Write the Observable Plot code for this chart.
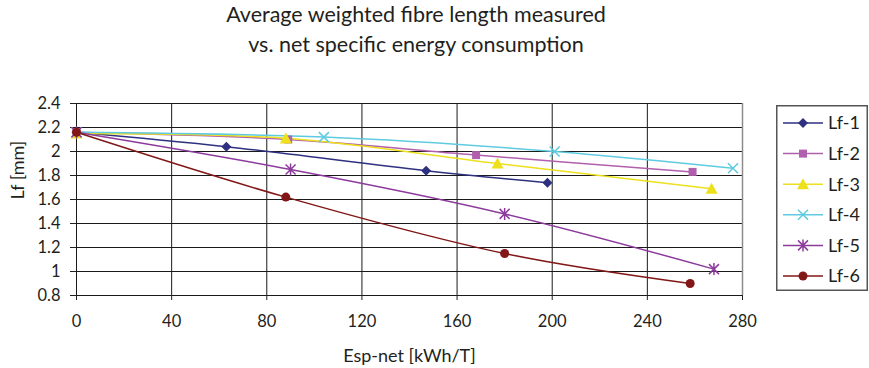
<!DOCTYPE html>
<html>
<head>
<meta charset="utf-8">
<script src="https://cdn.jsdelivr.net/npm/d3@7"></script>
<script src="https://cdn.jsdelivr.net/npm/@observablehq/plot@0.6"></script>
<style>
  html, body { margin: 0; padding: 0; background: #fff; }
  #wrap { position: relative; width: 869px; height: 368px; font-family: Lato, "Open Sans", sans-serif; color: #231f20; }
  #title { position: absolute; left: 0; top: -1px; width: 832px; text-align: center; font-size: 21.5px; line-height: 30px; }
  #chart { position: absolute; left: 0; top: 80px; }
  #legend { position: absolute; left: 776px; top: 105px; }
</style>
</head>
<body>
<div id="wrap">
  <div id="title">Average weighted fibre length measured<br>vs. net specific energy consumption</div>
  <div id="chart"></div>
  <div id="legend"></div>
</div>
<script>
// ---- data ----
const series = ["Lf-1", "Lf-2", "Lf-3", "Lf-4", "Lf-5", "Lf-6"];
const colors = ["#2e3080", "#b160ad", "#ece11c", "#5ecbe0", "#8c3b9c", "#821717"];

const lf1Esp = [0, 63, 147, 198];
const lf1Len = [2.16, 2.04, 1.84, 1.74];
const lf2Esp = [0, 89, 168, 259];
const lf2Len = [2.16, 2.10, 1.97, 1.83];
const lf3Esp = [0, 88, 177, 267];
const lf3Len = [2.15, 2.11, 1.90, 1.69];
const lf4Esp = [0, 104, 201, 276];
const lf4Len = [2.16, 2.12, 2.00, 1.86];
const lf5Esp = [0, 90, 180, 268];
const lf5Len = [2.16, 1.85, 1.48, 1.02];
const lf6Esp = [0, 88, 180, 258];
const lf6Len = [2.16, 1.62, 1.15, 0.90];

const xTicks = [0, 40, 80, 120, 160, 200, 240, 280];
const yTicks = [0.8, 1, 1.2, 1.4, 1.6, 1.8, 2, 2.2, 2.4];
const yTickLabels = ["0.8", "1", "1.2", "1.4", "1.6", "1.8", "2", "2.2", "2.4"];

const espArrays = [lf1Esp, lf2Esp, lf3Esp, lf4Esp, lf5Esp, lf6Esp];
const lenArrays = [lf1Len, lf2Len, lf3Len, lf4Len, lf5Len, lf6Len];
const data = series.flatMap((s, i) => espArrays[i].map((e, j) => ({series: s, esp: e, lf: lenArrays[i][j]})));

// ---- Excel-like marker shapes ----
const half = (size) => Math.sqrt(size / Math.PI);
const diamondSym = {draw(c, s) { const h = half(s); c.moveTo(0, -h); c.lineTo(h, 0); c.lineTo(0, h); c.lineTo(-h, 0); c.closePath(); }};
const squareSym = {draw(c, s) { const h = half(s); c.moveTo(-h, -h); c.lineTo(h, -h); c.lineTo(h, h); c.lineTo(-h, h); c.closePath(); }};
const triangleSym = {draw(c, s) { const h = half(s); c.moveTo(0, -h); c.lineTo(h, h * 0.85); c.lineTo(-h, h * 0.85); c.closePath(); }};
const timesSym = {draw(c, s) { const h = half(s); c.moveTo(-h, -h); c.lineTo(h, h); c.moveTo(h, -h); c.lineTo(-h, h); }};
const starSym = {draw(c, s) { const h = half(s); c.moveTo(-h, -h); c.lineTo(h, h); c.moveTo(h, -h); c.lineTo(-h, h); c.moveTo(0, -h * 1.2); c.lineTo(0, h * 1.2); }};
const circleSym = {draw(c, s) { const h = half(s); c.moveTo(h, 0); c.arc(0, 0, h, 0, 2 * Math.PI); c.closePath(); }};

const symbols = [diamondSym, squareSym, triangleSym, timesSym, starSym, circleSym];
const radii = [5, 4, 6, 5, 5, 4.5];
const filled = [true, true, true, false, false, true];

const dotMarks = series.map((s, i) => Plot.dot(data.filter(d => d.series === s), {
  x: "esp", y: "lf", symbol: symbols[i], r: radii[i],
  fill: filled[i] ? colors[i] : "none",
  stroke: filled[i] ? "none" : colors[i],
  strokeWidth: 1.5
}));

const chart = Plot.plot({
  width: 869, height: 288,
  marginTop: 23, marginBottom: 73, marginLeft: 76, marginRight: 127,
  style: {fontFamily: "Lato, 'Open Sans', sans-serif", fontSize: "16px", color: "#231f20", background: "transparent"},
  x: {domain: [0, 280]},
  y: {domain: [0.8, 2.4]},
  color: {domain: series, range: colors},
  marks: [
    Plot.ruleY(yTicks, {stroke: "#1a1a1a", strokeWidth: 1}),
    Plot.ruleX(xTicks.slice(0, -1), {stroke: "#1a1a1a", strokeWidth: 1}),
    Plot.ruleX(xTicks.slice(-1), {stroke: "#8c8c8c", strokeWidth: 1.5}),
    Plot.axisY({ticks: yTicks, tickFormat: d => yTickLabels[yTicks.indexOf(d)], tickSize: 6, tickPadding: 10, label: null, fontSize: 16.5}),
    Plot.axisX({ticks: xTicks, tickSize: 5, tickPadding: 15, label: null, fontSize: 16.5}),
    Plot.line(data, {x: "esp", y: "lf", z: "series", stroke: "series", curve: "catmull-rom", strokeWidth: 1.5}),
    ...dotMarks,
    Plot.text(["Esp-net [kWh/T]"], {frameAnchor: "bottom", dy: 61, fontSize: 18, lineAnchor: "middle"}),
    Plot.text(["Lf [mm]"], {frameAnchor: "left", dx: -58, rotate: -90, fontSize: 18, lineAnchor: "middle"})
  ]
});
document.getElementById("chart").appendChild(chart);

// ---- legend ----
const lw = 92, lh = 186;
const leg = d3.select("#legend").append("svg").attr("width", lw).attr("height", lh)
  .style("font-family", "Lato, 'Open Sans', sans-serif");
leg.append("rect").attr("x", 0.75).attr("y", 0.75).attr("width", lw - 1.5).attr("height", lh - 1.5)
  .attr("fill", "#fff").attr("stroke", "#555").attr("stroke-width", 1.5);
series.forEach((s, i) => {
  const cy = 18 + i * 30.6;
  const g = leg.append("g");
  g.append("line").attr("x1", 7).attr("x2", 47).attr("y1", cy).attr("y2", cy)
    .attr("stroke", colors[i]).attr("stroke-width", 1.5);
  g.append("path").attr("transform", `translate(27,${cy})`)
    .attr("d", d3.symbol(symbols[i], radii[i] * radii[i] * Math.PI)())
    .attr("fill", filled[i] ? colors[i] : "none")
    .attr("stroke", filled[i] ? "none" : colors[i]).attr("stroke-width", 1.5);
  g.append("text").attr("x", 52).attr("y", cy).attr("dy", "0.35em")
    .attr("font-size", 18).attr("fill", "#231f20").text(s);
});
</script>
</body>
</html>
